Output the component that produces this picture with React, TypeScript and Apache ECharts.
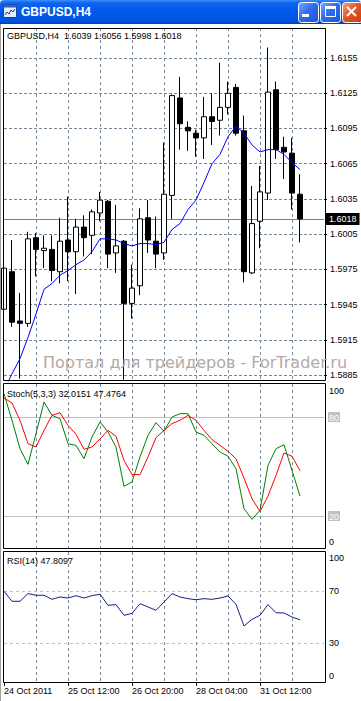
import React, { useEffect, useRef } from 'react';
import * as echarts from 'echarts';

const SYMBOL = 'GBPUSD,H4';
const WATERMARK = 'Портал для трейдеров - ForTrader.ru';

const OPEN = [1.5941, 1.5973, 1.5931, 1.5929, 1.6002, 1.5991, 1.5992, 1.5973, 1.6000, 1.5990, 1.6011, 1.6004, 1.6023, 1.6033, 1.5989, 1.5999, 1.5946, 1.5961, 1.6019, 1.5999, 1.5989, 1.6038, 1.6121, 1.6096, 1.6091, 1.6087, 1.6105, 1.6102, 1.6113, 1.6130, 1.6093, 1.5972, 1.6016, 1.6040, 1.6128, 1.6079, 1.6074, 1.6039];
const HIGH = [1.5984, 1.6000, 1.5955, 1.6007, 1.6006, 1.6004, 1.6004, 1.6019, 1.6037, 1.6018, 1.6021, 1.6026, 1.6041, 1.6034, 1.6030, 1.6000, 1.5979, 1.6027, 1.6034, 1.6020, 1.6083, 1.6124, 1.6139, 1.6101, 1.6094, 1.6122, 1.6125, 1.6151, 1.6135, 1.6133, 1.6106, 1.6046, 1.6063, 1.6164, 1.6135, 1.6088, 1.6087, 1.6056];
const LOW = [1.5937, 1.5926, 1.5882, 1.5926, 1.5969, 1.5976, 1.5965, 1.5963, 1.5965, 1.5954, 1.5986, 1.5988, 1.6016, 1.5976, 1.5972, 1.5881, 1.5933, 1.5953, 1.5989, 1.5976, 1.5983, 1.6018, 1.6077, 1.6076, 1.6071, 1.6069, 1.6081, 1.6089, 1.6107, 1.6089, 1.5964, 1.5971, 1.5993, 1.6034, 1.6069, 1.6052, 1.6026, 1.5998];
const CLOSE = [1.5976, 1.5930, 1.5929, 1.6001, 1.5992, 1.5993, 1.5974, 1.5999, 1.5990, 1.6011, 1.6002, 1.6024, 1.6034, 1.5988, 1.5995, 1.5946, 1.5959, 1.6018, 1.6000, 1.5988, 1.6039, 1.6123, 1.6099, 1.6093, 1.6087, 1.6105, 1.6101, 1.6113, 1.6125, 1.6091, 1.5973, 1.6014, 1.6041, 1.6126, 1.6077, 1.6075, 1.6040, 1.6018];
const MA = [1.5872, 1.5886, 1.5899, 1.5917, 1.5937, 1.5958, 1.5963, 1.5970, 1.5974, 1.5979, 1.5983, 1.5990, 1.6001, 1.6001, 1.6000, 1.5997, 1.5995, 1.5997, 1.5997, 1.5996, 1.5998, 1.6009, 1.6014, 1.6026, 1.6034, 1.6049, 1.6065, 1.6073, 1.6088, 1.6097, 1.6091, 1.6081, 1.6075, 1.6077, 1.6077, 1.6073, 1.6066, 1.6060];

const STOCH_MAIN = [94.1, 78.0, 60.8, 51.3, 69.9, 89.1, 81.0, 79.0, 63.8, 62.8, 54.7, 67.9, 77.0, 70.9, 61.8, 38.0, 40.6, 55.8, 68.9, 76.6, 71.3, 80.0, 82.0, 82.0, 70.9, 68.9, 63.8, 58.8, 56.2, 48.7, 24.4, 18.0, 23.4, 50.7, 60.8, 63.2, 47.7, 32.0151];
const STOCH_SIGNAL = [91.5, 88.5, 78.0, 63.8, 61.8, 71.9, 81.0, 82.6, 74.9, 69.5, 60.4, 61.8, 66.7, 71.9, 68.3, 53.7, 45.1, 45.1, 55.8, 67.5, 71.9, 76.0, 78.0, 81.0, 78.0, 71.9, 66.3, 62.8, 59.2, 54.7, 43.0, 30.5, 22.8, 32.1, 44.6, 58.2, 56.2, 47.4764];
const RSI = [69.8, 62.1, 62.1, 68.0, 66.7, 66.7, 63.6, 65.4, 64.6, 66.4, 64.6, 66.4, 67.5, 59.0, 59.5, 51.3, 52.8, 60.3, 57.7, 55.2, 61.5, 68.0, 65.4, 64.1, 63.3, 64.1, 63.6, 64.6, 66.2, 59.7, 43.1, 48.2, 51.3, 59.5, 53.3, 53.1, 50.0, 47.8097];

const PRICE_TICKS = [1.5885, 1.5915, 1.5945, 1.5975, 1.6005, 1.6035, 1.6065, 1.6095, 1.6125, 1.6155];
const STOCH_LEVELS = [20, 80];
const STOCH_LABELS = [0, 20, 80, 100];
const RSI_LEVELS = [30, 70];
const RSI_LABELS = [0, 30, 70, 100];
const TIME_LABELS = ['24 Oct 2011', '25 Oct 12:00', '26 Oct 20:00', '28 Oct 04:00', '31 Oct 12:00'];

const BARS_PER_TIME_LABEL = 8;
const BARS_PER_GRID_LINE = 4;
const EMPTY_BARS_RIGHT = 3;
const PRICE_MIN = 1.58799;
const PRICE_MAX = 1.61806;

const FONT = '"Liberation Sans", Arial, sans-serif';
const GRID_COLOR = '#778899';

export default function App() {
  const ref = useRef<HTMLDivElement>(null);

  useEffect(() => {
    const el = ref.current;
    if (!el) return;
    const chart = echarts.init(el, null, { renderer: 'svg', width: 361, height: 701 });

    const n = OPEN.length;
    const last = n - 1;
    const cats = Array.from({ length: n + EMPTY_BARS_RIGHT }, (_, i) => String(i));
    const candles = OPEN.map((o, i) => [o, CLOSE[i], LOW[i], HIGH[i]]);
    const lastClose = CLOSE[last];

    const grids = [
      { left: 4, width: 320, top: 28, height: 353 },
      { left: 4, width: 320, top: 384, height: 165 },
      { left: 4, width: 320, top: 552, height: 130 },
    ];

    const gridLineInterval = (i: number) => i > 0 && i % BARS_PER_GRID_LINE === 0 && i < cats.length - 1;
    const timeInterval = (i: number) => i % BARS_PER_TIME_LABEL === 0 && i < n;

    const xAxis = grids.map((_, gi) => ({
      type: 'category',
      gridIndex: gi,
      data: cats,
      boundaryGap: false,
      axisLine: { show: false },
      axisTick: { show: gi === 2, length: 4, interval: timeInterval, lineStyle: { color: '#000' } },
      axisLabel: {
        show: gi === 2,
        interval: timeInterval,
        align: 'left',
        margin: 4,
        color: '#000',
        fontSize: 9,
        fontFamily: FONT,
        formatter: (_v: string, i: number) => TIME_LABELS[i / BARS_PER_TIME_LABEL] ?? '',
      },
      splitLine: { show: true, interval: gridLineInterval, lineStyle: { color: GRID_COLOR, type: [3, 3], width: 1 } },
    }));

    const yAxis = [
      {
        type: 'value', gridIndex: 0, position: 'right', min: PRICE_MIN, max: PRICE_MAX,
        axisLine: { show: false },
        axisTick: { show: true, length: 3, customValues: PRICE_TICKS, lineStyle: { color: '#000' } },
        axisLabel: { customValues: PRICE_TICKS, margin: 6, color: '#000', fontSize: 9, fontFamily: FONT, formatter: (v: number) => v.toFixed(4) },
        splitLine: { show: true, lineStyle: { color: GRID_COLOR, type: [3, 2], width: 1 } },
      },
      {
        type: 'value', gridIndex: 1, position: 'right', min: 0, max: 100,
        axisLine: { show: false },
        axisTick: { show: false, customValues: STOCH_LEVELS },
        axisLabel: {
          customValues: STOCH_LABELS, margin: 4, color: '#000', fontSize: 9, fontFamily: FONT,
          formatter: (v: number) => (v === 100 ? `{top|${v}}` : v === 0 ? `{bot|${v}}` : `{lvl|${v}}`),
          rich: {
            top: { padding: [14, 0, 0, 1] },
            bot: { padding: [0, 0, 14, 1] },
            lvl: { color: '#fff', backgroundColor: '#C0C0C0', padding: [1, 1, 0, 1] },
          },
        },
        splitLine: { show: true, lineStyle: { color: '#C0C0C0', type: 'solid', width: 1 } },
      },
      {
        type: 'value', gridIndex: 2, position: 'right', min: 0, max: 100,
        axisLine: { show: false },
        axisTick: { show: false, customValues: RSI_LEVELS },
        axisLabel: {
          customValues: RSI_LABELS, margin: 4, color: '#000', fontSize: 9, fontFamily: FONT,
          formatter: (v: number) => (v === 100 ? `{top|${v}}` : v === 0 ? `{bot|${v}}` : `{mid|${v}}`),
          rich: {
            top: { padding: [12, 0, 0, 1] },
            bot: { padding: [0, 0, 12, 1] },
            mid: { padding: [0, 0, 0, 1] },
          },
        },
        splitLine: { show: true, lineStyle: { color: '#C0C0C0', type: [3, 3], width: 1 } },
      },
    ];

    const header = `${SYMBOL}  ${OPEN[last].toFixed(4)} ${HIGH[last].toFixed(4)} ${LOW[last].toFixed(4)} ${CLOSE[last].toFixed(4)}`;
    const stochTitle = `Stoch(5,3,3) ${STOCH_MAIN[last].toFixed(4)} ${STOCH_SIGNAL[last].toFixed(4)}`;
    const rsiTitle = `RSI(14) ${RSI[last].toFixed(4)}`;

    const titleGrad = {
      type: 'linear', x: 0, y: 0, x2: 0, y2: 1,
      colorStops: [
        { offset: 0, color: '#3D8EFB' },
        { offset: 0.12, color: '#0F64F0' },
        { offset: 0.5, color: '#0058EA' },
        { offset: 0.88, color: '#0053E0' },
        { offset: 1, color: '#003FC2' },
      ],
    };
    const btnGrad = {
      type: 'linear', x: 0, y: 0, x2: 1, y2: 1,
      colorStops: [
        { offset: 0, color: '#7AAAFF' },
        { offset: 0.45, color: '#2E6DF2' },
        { offset: 1, color: '#1A52D6' },
      ],
    };
    const closeGrad = {
      type: 'linear', x: 0, y: 0, x2: 1, y2: 1,
      colorStops: [
        { offset: 0, color: '#F2A080' },
        { offset: 0.45, color: '#E0582E' },
        { offset: 1, color: '#C63A12' },
      ],
    };

    const frame = (y: number, h: number) => ({
      type: 'rect', silent: true, z: 100,
      shape: { x: 3.5, y, width: 322, height: h },
      style: { fill: 'none', stroke: '#000', lineWidth: 1 },
    });

    const graphic = [
      { type: 'rect', silent: true, z: 90, shape: { x: 0, y: 0, width: 361, height: 24, r: [4, 4, 0, 0] }, style: { fill: titleGrad } },
      { type: 'line', silent: true, z: 90, shape: { x1: 0.5, y1: 24, x2: 0.5, y2: 701 }, style: { stroke: '#A0A0A0', lineWidth: 1 } },
      // window icon
      { type: 'rect', silent: true, z: 91, shape: { x: 3.5, y: 4.5, width: 13, height: 13 }, style: { fill: '#E6EEFA', stroke: '#1D3C96', lineWidth: 1 } },
      { type: 'rect', silent: true, z: 92, shape: { x: 3.5, y: 4.5, width: 13, height: 3 }, style: { fill: '#2F5FC8' } },
      { type: 'polyline', silent: true, z: 92, shape: { points: [[5, 15], [7, 12], [9, 14], [11, 10], [13, 12], [15, 9]] }, style: { stroke: '#1D3C96', lineWidth: 1, fill: 'none' } },
      {
        type: 'text', silent: true, z: 92, x: 21, y: 12,
        style: { text: SYMBOL, fill: '#fff', fontSize: 12, fontWeight: 'bold', fontFamily: FONT, verticalAlign: 'middle', align: 'left' },
      },
      // buttons
      { type: 'rect', silent: true, z: 91, shape: { x: 298.5, y: 2.5, width: 20, height: 20, r: 3 }, style: { fill: btnGrad, stroke: '#fff', lineWidth: 1 } },
      { type: 'rect', silent: true, z: 92, shape: { x: 302, y: 14, width: 7, height: 3 }, style: { fill: '#fff' } },
      { type: 'rect', silent: true, z: 91, shape: { x: 320.5, y: 2.5, width: 20, height: 20, r: 3 }, style: { fill: btnGrad, stroke: '#fff', lineWidth: 1 } },
      { type: 'rect', silent: true, z: 92, shape: { x: 325.5, y: 7.5, width: 10, height: 9 }, style: { fill: 'none', stroke: '#fff', lineWidth: 1 } },
      { type: 'rect', silent: true, z: 92, shape: { x: 325, y: 6, width: 11, height: 3 }, style: { fill: '#fff' } },
      { type: 'rect', silent: true, z: 91, shape: { x: 342.5, y: 2.5, width: 20, height: 20, r: 3 }, style: { fill: closeGrad, stroke: '#fff', lineWidth: 1 } },
      { type: 'line', silent: true, z: 92, shape: { x1: 347, y1: 7, x2: 356, y2: 16 }, style: { stroke: '#fff', lineWidth: 2 } },
      { type: 'line', silent: true, z: 92, shape: { x1: 356, y1: 7, x2: 347, y2: 16 }, style: { stroke: '#fff', lineWidth: 2 } },
      // panel frames
      frame(28.5, 352),
      frame(383.5, 165),
      frame(551.5, 131),
      // panel titles
      { type: 'text', silent: true, z: 101, x: 7, y: 36, style: { text: header, fill: '#000', fontSize: 9, fontFamily: FONT, verticalAlign: 'middle', align: 'left' } },
      { type: 'text', silent: true, z: 101, x: 7, y: 393.5, style: { text: stochTitle, fill: '#000', fontSize: 9, fontFamily: FONT, verticalAlign: 'middle', align: 'left' } },
      { type: 'text', silent: true, z: 101, x: 7, y: 561, style: { text: rsiTitle, fill: '#000', fontSize: 9, fontFamily: FONT, verticalAlign: 'middle', align: 'left' } },
      // watermark
      { type: 'text', silent: true, z: 102, x: 43, y: 362, style: { text: WATERMARK, fill: '#B4A8A8', fontSize: 16, fontFamily: '"DejaVu Sans", sans-serif', verticalAlign: 'middle', align: 'left' } },
    ];

    const option = {
      animation: false,
      backgroundColor: '#fff',
      textStyle: { fontFamily: FONT, fontSize: 9 },
      grid: grids.map((g) => ({ ...g, containLabel: false, outerBoundsMode: 'none' })),
      xAxis,
      yAxis,
      series: [
        {
          type: 'candlestick', xAxisIndex: 0, yAxisIndex: 0, data: candles, barWidth: 5,
          itemStyle: { color: '#fff', color0: '#000', borderColor: '#000', borderColor0: '#000', borderWidth: 1 },
          z: 3,
        },
        {
          type: 'line', xAxisIndex: 0, yAxisIndex: 0, data: MA, symbol: 'none', showSymbol: false,
          lineStyle: { color: '#0000FF', width: 1 }, z: 4,
          markLine: {
            silent: true, symbol: ['none', 'none'], animation: false, precision: 4,
            data: [{ yAxis: lastClose }],
            lineStyle: { color: '#808080', type: 'solid', width: 1 },
            label: { show: true, position: 'end', distance: 2, formatter: lastClose.toFixed(4), backgroundColor: '#000', color: '#fff', padding: [2, 3, 1, 3], fontSize: 9, fontFamily: FONT },
            z: 2,
          },
        },
        { type: 'line', xAxisIndex: 1, yAxisIndex: 1, data: STOCH_MAIN, symbol: 'none', showSymbol: false, lineStyle: { color: '#008000', width: 1 }, z: 4 },
        { type: 'line', xAxisIndex: 1, yAxisIndex: 1, data: STOCH_SIGNAL, symbol: 'none', showSymbol: false, lineStyle: { color: '#FF0000', width: 1 }, z: 5 },
        { type: 'line', xAxisIndex: 2, yAxisIndex: 2, data: RSI, symbol: 'none', showSymbol: false, lineStyle: { color: '#1C1C8C', width: 1 }, z: 4 },
      ],
      graphic,
    };

    chart.setOption(option as any);
    return () => chart.dispose();
  }, []);

  return <div ref={ref} style={{ position: 'fixed', left: 0, top: 0, width: 361, height: 701, background: '#fff' }} />;
}
